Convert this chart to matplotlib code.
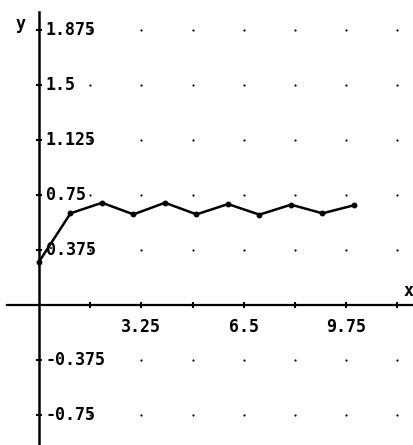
import matplotlib
matplotlib.use('Agg')
import matplotlib.pyplot as plt

# iterates
steps = [0, 1, 2, 3, 4, 5, 6, 7, 8, 9, 10]
values = [0.295, 0.625, 0.697, 0.618, 0.697, 0.618, 0.688, 0.616, 0.684, 0.625, 0.68]

x_ticks = [1.625, 3.25, 4.875, 6.5, 8.125, 9.75, 11.375]
x_labels = ['', '3.25', '', '6.5', '', '9.75', '']
y_ticks = [-0.75, -0.375, 0.375, 0.75, 1.125, 1.5, 1.875]
y_labels = ['-0.75', '-0.375', '0.375', '0.75', '1.125', '1.5', '1.875']

font = dict(family='DejaVu Sans Mono', fontweight='bold', fontsize=12)

fig = plt.figure(figsize=(4.14, 4.45), dpi=100)
ax = fig.add_axes([0, 0, 1, 1])
ax.set_xlim(-1.238, 11.905)
ax.set_ylim(-0.954, 2.079)

# axes through the origin
for side in ['top', 'right']:
    ax.spines[side].set_visible(False)
ax.spines['left'].set_position(('data', 0))
ax.spines['bottom'].set_position(('data', 0))
ax.spines['left'].set_bounds(-0.954, 1.997)
ax.spines['bottom'].set_bounds(-1.016, 11.905)
ax.spines['left'].set_linewidth(1.8)
ax.spines['bottom'].set_linewidth(1.6)

ax.set_xticks(x_ticks)
ax.set_yticks(y_ticks)
ax.set_xticklabels([])
ax.set_yticklabels([])
ax.tick_params(direction='inout', length=5, width=1.5, color='black')

# dotted grid
gx = [x for x in x_ticks for y in y_ticks]
gy = [y for x in x_ticks for y in y_ticks]
ax.scatter(gx, gy, s=2.5, color='black', linewidths=0, zorder=1)

for t, lab in zip(x_ticks, x_labels):
    if lab:
        ax.annotate(lab, (t, 0), xytext=(0, -16), textcoords='offset points',
                    ha='center', va='center', **font)
for t, lab in zip(y_ticks, y_labels):
    ax.annotate(lab, (0, t), xytext=(5, 0), textcoords='offset points',
                ha='left', va='center', zorder=3, **font)

ax.text(-0.57, 1.915, 'y', ha='center', va='center', **font)
ax.text(11.72, 0.095, 'x', ha='center', va='center', **font)

ax.plot(steps, values, color='black', linewidth=1.8, marker='o', markersize=3.2, zorder=4)

fig.savefig('out.png', dpi=100)
